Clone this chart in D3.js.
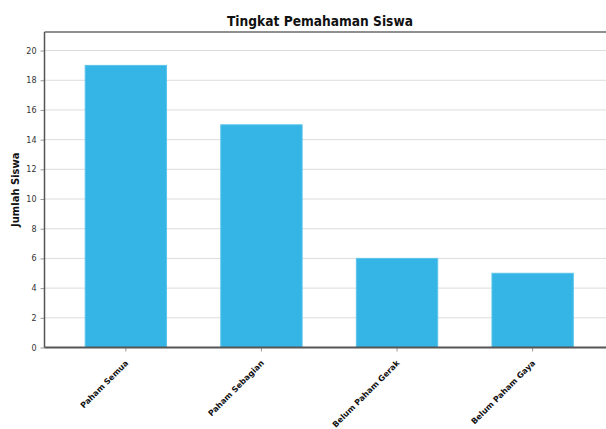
<!DOCTYPE html>
<html>
<head>
<meta charset="utf-8">
<script src="https://cdn.jsdelivr.net/npm/d3@7"></script>
<style>
  html, body { margin: 0; padding: 0; background: #fff; }
  svg { display: block; }
</style>
</head>
<body>
<svg id="chart" width="606" height="429"></svg>
<script>
// Survey results: how many students understood the material
const categories = ["Paham Semua", "Paham Sebagian", "Belum Paham Gerak", "Belum Paham Gaya"];
const values = [19, 15, 6, 5];
const yTicks = [0, 2, 4, 6, 8, 10, 12, 14, 16, 18, 20];
const titleText = "Tingkat Pemahaman Siswa";
const yTitle = "Jumlah Siswa";

const svg = d3.select("#chart");
const W = 606, H = 429;
const plot = { left: 44.5, top: 32, bottom: 347.5, right: 614 };
const font = "'DejaVu Sans', Verdana, sans-serif";

const x = d3.scaleBand()
  .domain(categories)
  .range([plot.left, plot.right])
  .paddingInner(0.4)
  .paddingOuter(0.3);

const y = d3.scaleLinear()
  .domain([0, 21.25])
  .range([plot.bottom, plot.top]);

// horizontal grid lines
svg.append("g")
  .selectAll("line")
  .data(yTicks.filter(d => d > 0))
  .join("line")
  .attr("x1", plot.left).attr("x2", W)
  .attr("y1", d => y(d)).attr("y2", d => y(d))
  .attr("stroke", "#dcdcdc").attr("stroke-width", 1);

// bars
svg.append("g")
  .selectAll("rect")
  .data(categories)
  .join("rect")
  .attr("x", d => x(d))
  .attr("y", (d, i) => y(values[i]))
  .attr("width", x.bandwidth())
  .attr("height", (d, i) => y(0) - y(values[i]))
  .attr("fill", "#35b5e5")
  .attr("stroke", "#5cc4ea")
  .attr("stroke-width", 1);

// frame: top edge
svg.append("line")
  .attr("x1", plot.left).attr("x2", W)
  .attr("y1", plot.top).attr("y2", plot.top)
  .attr("stroke", "#6b6b6b").attr("stroke-width", 1.5);

// y axis
const yAxis = svg.append("g")
  .attr("transform", `translate(${plot.left},0)`)
  .call(d3.axisLeft(y).tickValues(yTicks).tickSize(4).tickPadding(4));
yAxis.select(".domain").remove();
yAxis.append("line")
  .attr("x1", 0).attr("x2", 0)
  .attr("y1", plot.top).attr("y2", plot.bottom)
  .attr("stroke", "#555").attr("stroke-width", 1.5);
yAxis.selectAll(".tick line").attr("stroke", "#999");
yAxis.selectAll(".tick text")
  .attr("fill", "#333")
  .style("font-family", font)
  .style("font-size", "8px");

// x axis
const xAxis = svg.append("g")
  .attr("transform", `translate(0,${plot.bottom})`)
  .call(d3.axisBottom(x).tickSize(4).tickSizeOuter(0).tickPadding(6));
xAxis.select(".domain").remove();
xAxis.append("line")
  .attr("x1", plot.left).attr("x2", W)
  .attr("y1", 0).attr("y2", 0)
  .attr("stroke", "#555").attr("stroke-width", 2);
xAxis.selectAll(".tick line").attr("stroke", "#999");
xAxis.selectAll(".tick text")
  .attr("fill", "#111")
  .attr("text-anchor", "end")
  .attr("dy", 0)
  .attr("transform", "translate(-4,9) rotate(-45)")
  .style("font-family", font)
  .style("font-weight", "bold")
  .style("font-size", "8px");

// chart title
svg.append("text")
  .attr("x", 320).attr("y", 26)
  .attr("text-anchor", "middle")
  .attr("textLength", 186)
  .attr("lengthAdjust", "spacingAndGlyphs")
  .style("font-family", font)
  .style("font-weight", "bold")
  .style("font-size", "14.5px")
  .attr("fill", "#111")
  .text(titleText);

// y axis title
svg.append("text")
  .attr("transform", `translate(19,${(plot.top + plot.bottom) / 2}) rotate(-90)`)
  .attr("text-anchor", "middle")
  .style("font-family", font)
  .style("font-weight", "bold")
  .style("font-size", "10px")
  .attr("fill", "#111")
  .text(yTitle);
</script>
</body>
</html>
